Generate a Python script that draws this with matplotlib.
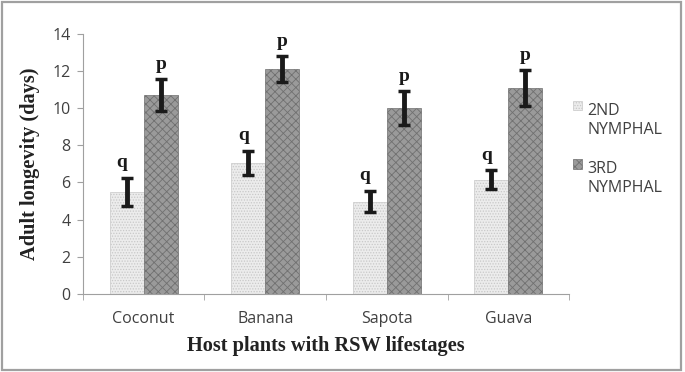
import matplotlib
matplotlib.use("Agg")
import matplotlib.pyplot as plt
import numpy as np
from matplotlib.patches import Rectangle
from matplotlib.container import BarContainer
from matplotlib.legend_handler import HandlerPatch, update_from_first_child

categories = ["Coconut", "Banana", "Sapota", "Guava"]
nymph2 = [5.5, 7.05, 4.97, 6.15]
nymph2_err = [0.75, 0.65, 0.58, 0.5]
nymph3 = [10.7, 12.1, 10.0, 11.08]
nymph3_err = [0.85, 0.7, 0.9, 0.95]
labels2 = ["q", "q", "q", "q"]
labels3 = ["p", "p", "p", "p"]
series_names = ["2ND\nNYMPHAL", "3RD\nNYMPHAL"]
yticks = [0, 2, 4, 6, 8, 10, 12, 14]

plt.rcParams['hatch.linewidth'] = 0.6
fig = plt.figure(figsize=(6.85, 3.72), dpi=100)
ax = fig.add_axes([0.121, 0.21, 0.710, 0.699])

x = np.arange(len(categories))
w = 0.28
tcol = "#404040"
b2 = ax.bar(x - w/2, nymph2, w, color="#ececec", edgecolor="#c8c8c8", hatch="......",
            linewidth=0.5, label=series_names[0])
b3 = ax.bar(x + w/2, nymph3, w, color="#9a9a9a", edgecolor="#707070", hatch="xxxx",
            linewidth=0.5, label=series_names[1])
ax.errorbar(x - w/2, nymph2, yerr=nymph2_err, fmt="none", ecolor="#1a1a1a",
            elinewidth=3.5, capsize=4, capthick=2.5)
ax.errorbar(x + w/2, nymph3, yerr=nymph3_err, fmt="none", ecolor="#1a1a1a",
            elinewidth=3.5, capsize=4, capthick=2.5)
for i in range(len(categories)):
    ax.text(x[i] - w/2 - 0.04, nymph2[i] + nymph2_err[i] + 0.35, labels2[i],
            ha="center", va="bottom", fontsize=14, fontweight="bold",
            family="Liberation Serif", color="#1a1a1a")
    ax.text(x[i] + w/2, nymph3[i] + nymph3_err[i] + 0.35, labels3[i],
            ha="center", va="bottom", fontsize=14, fontweight="bold",
            family="Liberation Serif", color="#1a1a1a")

ax.set_xlim(-0.5, len(categories) - 0.5)
ax.set_ylim(0, 14)
ax.set_yticks(yticks)
ax.set_yticklabels([str(v) for v in yticks], fontsize=11.5, color=tcol, family="Open Sans")
ax.set_xticks(x)
ax.set_xticklabels(categories, fontsize=11.5, color=tcol, family="Open Sans")
ax.set_xticks(np.arange(-0.5, len(categories)), minor=True)
ax.tick_params(axis="x", which="major", length=0, pad=12)
ax.tick_params(axis="x", which="minor", length=4, color="#a0a0a0", direction="out")
ax.tick_params(axis="y", length=4, color="#a0a0a0", direction="out", pad=5)
for s in ["top", "right"]:
    ax.spines[s].set_visible(False)
for s in ["left", "bottom"]:
    ax.spines[s].set_color("#a0a0a0")
    ax.spines[s].set_linewidth(0.8)

ax.set_ylabel("Adult longevity (days)", fontsize=14.7, fontweight="bold",
              family="Liberation Serif", color="#222222", labelpad=9)
ax.set_xlabel("Host plants with RSW lifestages", fontsize=14.7, fontweight="bold",
              family="Liberation Serif", color="#222222", labelpad=7)


def top_patch(legend, orig_handle, xdescent, ydescent, width, height, fontsize):
    return Rectangle((-xdescent, -ydescent + 0.94 * fontsize), width, height)


leg = fig.legend(handles=[b2, b3], loc="upper left", bbox_to_anchor=(0.825, 0.745),
                 frameon=False, handlelength=0.55, handleheight=0.55,
                 labelspacing=1.45, handletextpad=0.35, borderpad=0,
                 prop={"family": "Open Sans", "size": 11.5},
                 handler_map={BarContainer: HandlerPatch(patch_func=top_patch,
                                                         update_func=update_from_first_child)})
for t in leg.get_texts():
    t.set_color(tcol)
    t.set_linespacing(1.25)

fig.patches.append(Rectangle((2 / 685, 2 / 372), 679 / 685, 368 / 372,
                             transform=fig.transFigure, fill=False,
                             edgecolor="#a0a0a0", linewidth=1.6))
fig.savefig("out.png", dpi=100)
